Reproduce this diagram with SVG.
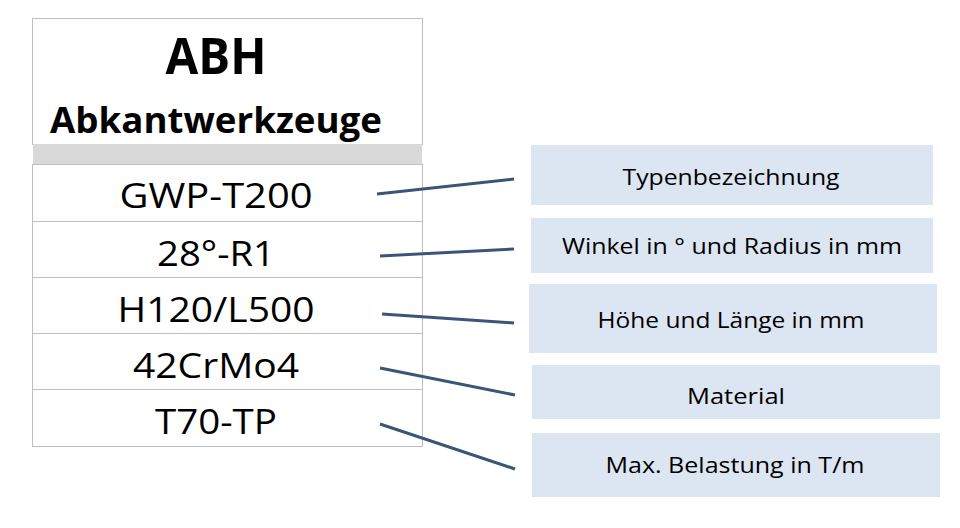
<svg xmlns="http://www.w3.org/2000/svg" width="960" height="528" viewBox="0 0 960 528">
<style>
.cell{fill:#ffffff;stroke:#bfbfbf;stroke-width:1}
.t{font-family:"Open Sans","Liberation Sans",sans-serif;fill:#000;text-anchor:middle}
.big{font-size:34px}
.box{fill:#dce6f2}
.lbl{font-size:22px}
.con{stroke:#3b5578;stroke-width:3;fill:none}
</style>
<rect width="960" height="528" fill="#ffffff"/>
<g id="table">
<rect class="cell" x="32.5" y="18.5" width="390" height="126"/>
<rect x="33" y="144" width="389" height="20" fill="#d9d9d9"/>
<text class="t" x="216" y="74" font-size="50" font-weight="bold" textLength="101" lengthAdjust="spacingAndGlyphs">ABH</text>
<text class="t" x="216" y="133" font-size="36" font-weight="bold" textLength="332" lengthAdjust="spacingAndGlyphs">Abkantwerkzeuge</text>
</g>
<g id="row1"><rect class="cell" x="32.5" y="164.5" width="390" height="57"/><text class="t big" x="216" y="208" textLength="193" lengthAdjust="spacingAndGlyphs">GWP-T200</text></g>
<g id="row2"><rect class="cell" x="32.5" y="221.5" width="390" height="56"/><text class="t big" x="216" y="266" textLength="118" lengthAdjust="spacingAndGlyphs">28°-R1</text></g>
<g id="row3"><rect class="cell" x="32.5" y="277.5" width="390" height="56"/><text class="t big" x="216" y="322" textLength="197" lengthAdjust="spacingAndGlyphs">H120/L500</text></g>
<g id="row4"><rect class="cell" x="32.5" y="333.5" width="390" height="56"/><text class="t big" x="216" y="378" textLength="166" lengthAdjust="spacingAndGlyphs">42CrMo4</text></g>
<g id="row5"><rect class="cell" x="32.5" y="389.5" width="390" height="57"/><text class="t big" x="216" y="434" textLength="122" lengthAdjust="spacingAndGlyphs">T70-TP</text></g>
<g id="connectors">
<line class="con" x1="377" y1="194" x2="514" y2="179"/>
<line class="con" x1="380" y1="256" x2="514" y2="249"/>
<line class="con" x1="382" y1="314" x2="514" y2="323"/>
<line class="con" x1="380" y1="368" x2="515" y2="395"/>
<line class="con" x1="380" y1="424" x2="515" y2="469"/>
</g>
<g id="n1"><rect class="box" x="531" y="145" width="402" height="60"/><text class="t lbl" x="731" y="185" textLength="217" lengthAdjust="spacingAndGlyphs">Typenbezeichnung</text></g>
<g id="n2"><rect class="box" x="531" y="218" width="402" height="55"/><text class="t lbl" x="732" y="254" textLength="340" lengthAdjust="spacingAndGlyphs">Winkel in ° und Radius in mm</text></g>
<g id="n3"><rect class="box" x="529" y="284" width="408" height="69"/><text class="t lbl" x="731" y="328" textLength="267" lengthAdjust="spacingAndGlyphs">Höhe und Länge in mm</text></g>
<g id="n4"><rect class="box" x="532" y="365" width="408" height="54"/><text class="t lbl" x="736" y="404" textLength="98" lengthAdjust="spacingAndGlyphs">Material</text></g>
<g id="n5"><rect class="box" x="532" y="433" width="408" height="64"/><text class="t lbl" x="735" y="473" textLength="259" lengthAdjust="spacingAndGlyphs">Max. Belastung in T/m</text></g>
</svg>
